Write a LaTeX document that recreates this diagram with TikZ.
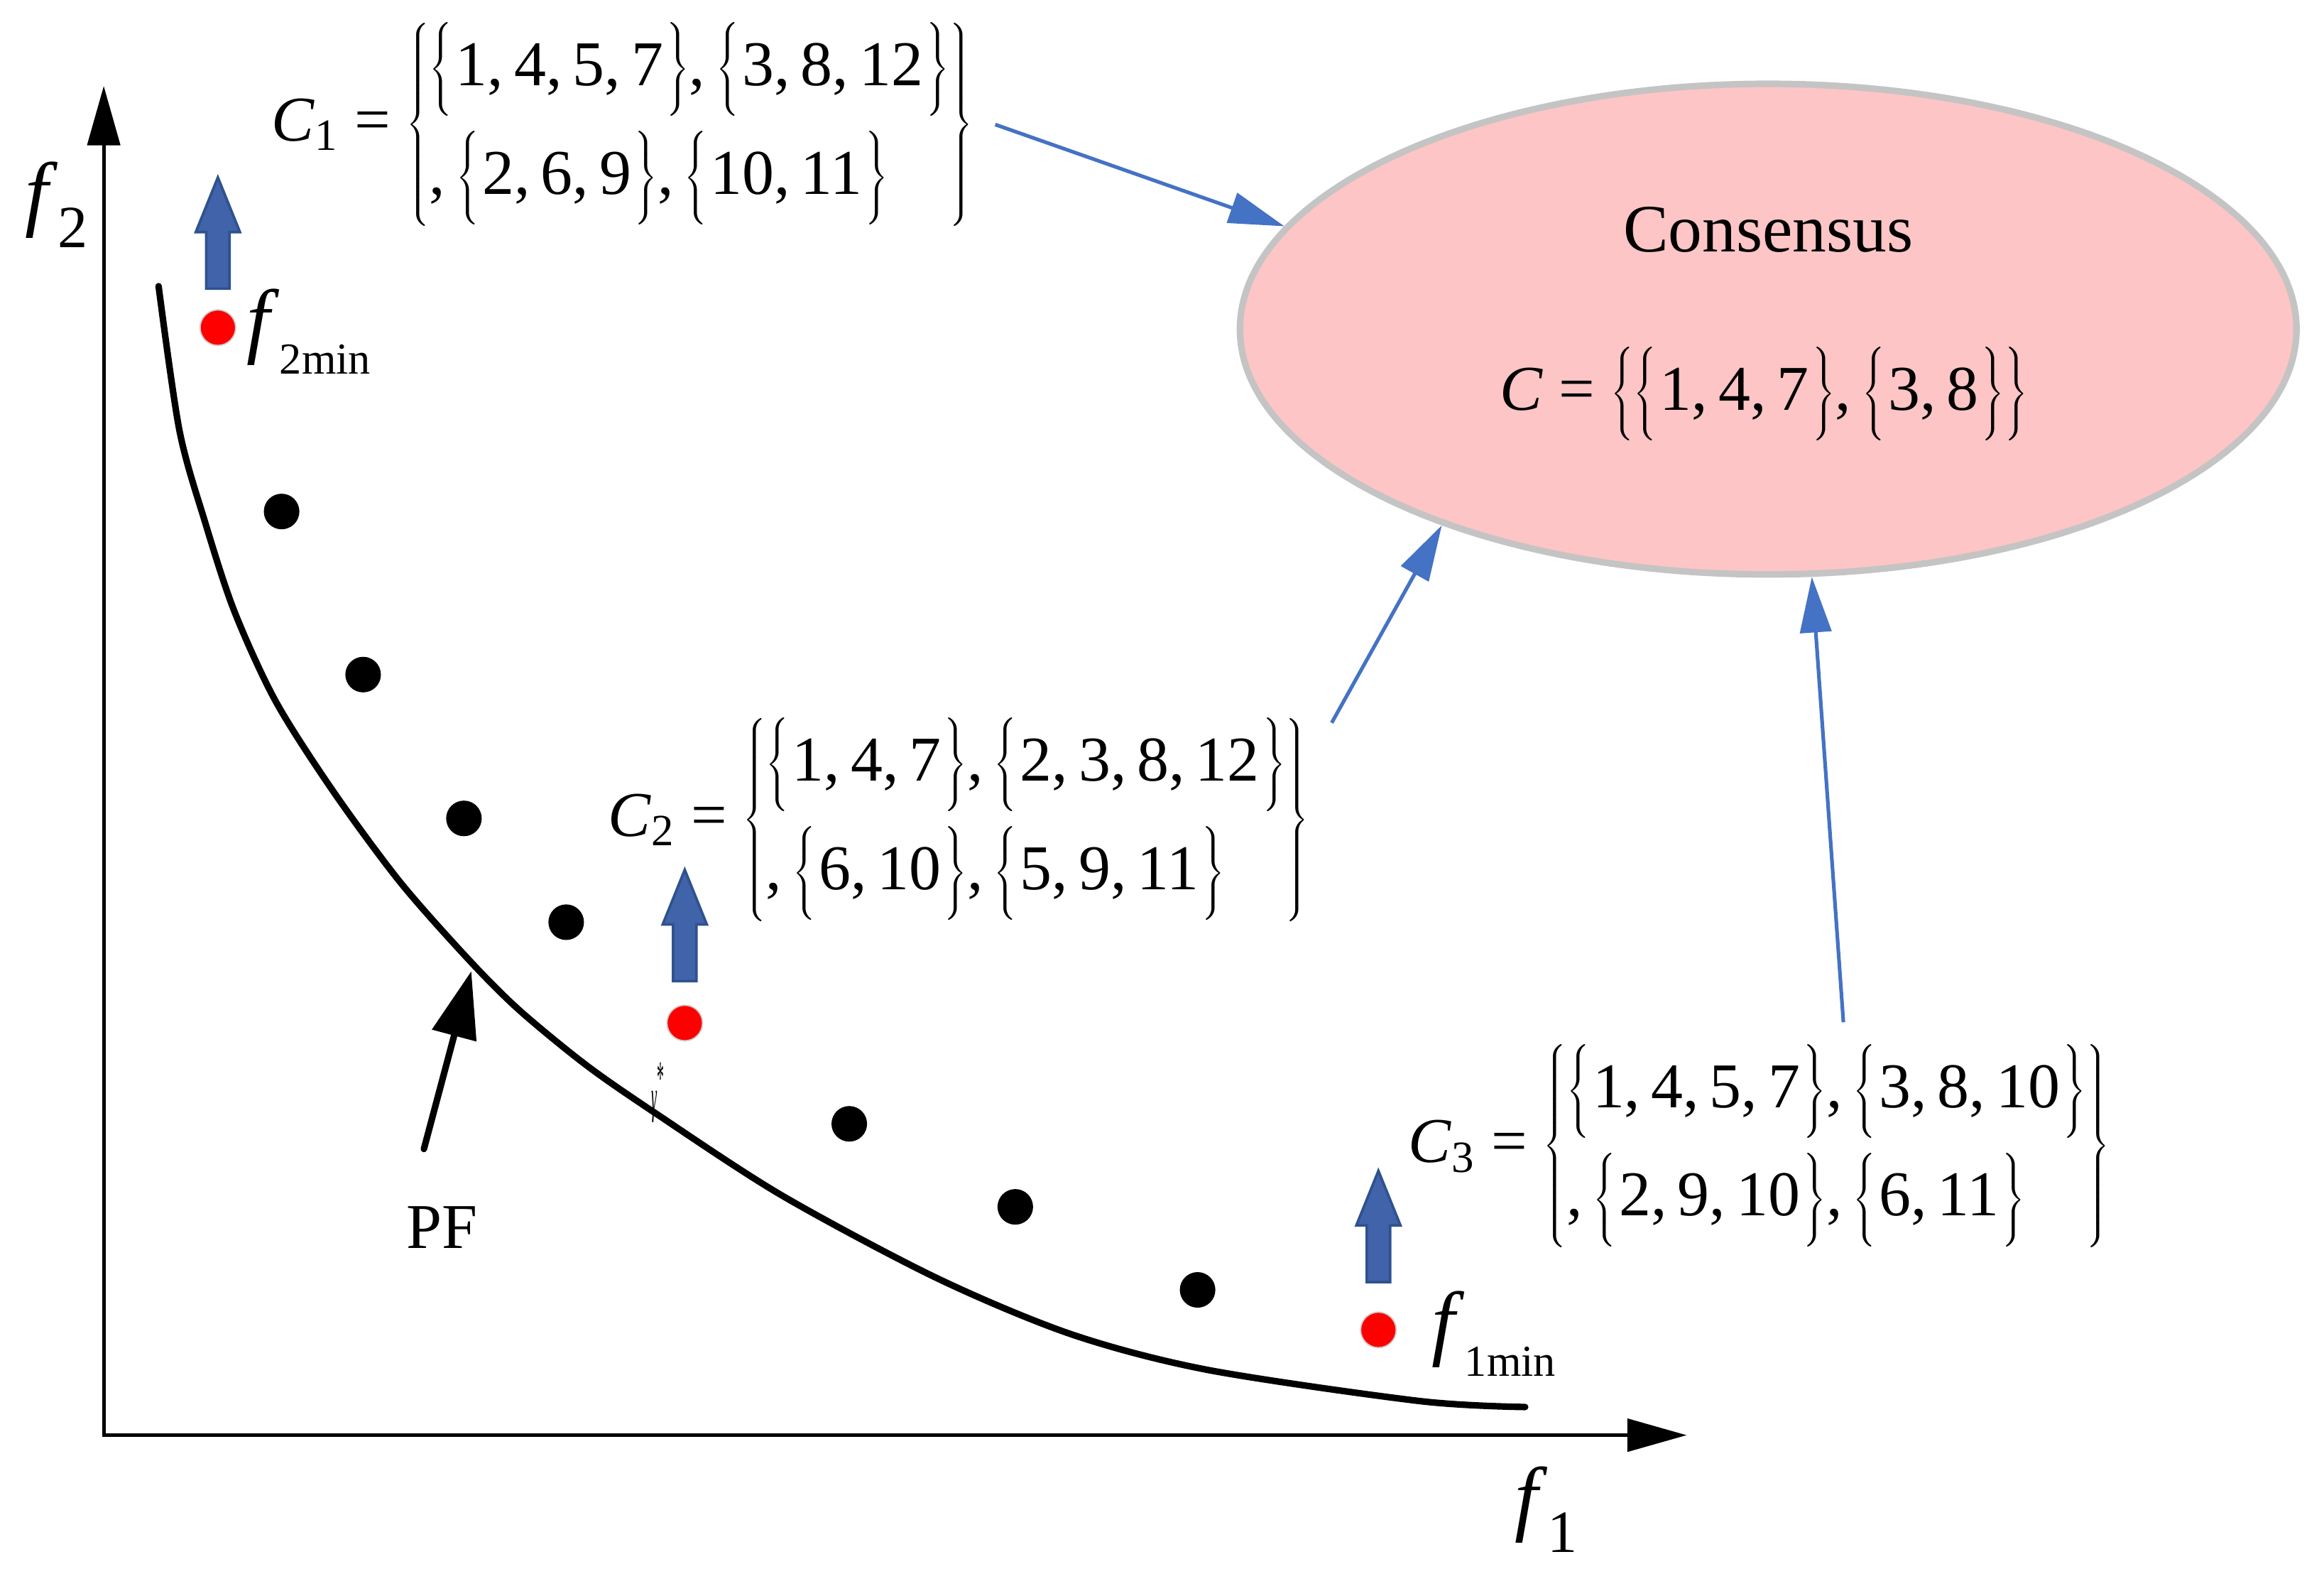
\documentclass[tikz,border=0pt]{standalone}
\usepackage{fontspec}
\setmainfont{Liberation Serif}
\usepackage{graphicx}
\usetikzlibrary{positioning,arrows.meta,shapes.geometric,shapes.arrows}

\definecolor{linkblue}{HTML}{4472C4}
\definecolor{blockblue}{HTML}{4063AA}
\definecolor{blockedge}{HTML}{2F528F}
\definecolor{conspink}{HTML}{FDC5C5}
\definecolor{consgray}{HTML}{C4C4C4}

\newcommand{\eqfont}{\fontsize{24.5}{29}\selectfont}
\newcommand{\flabfont}{\fontsize{32}{38}\selectfont}
\newcommand{\grpstrut}{\rule[-0.44cm]{0pt}{1.3cm}}
\newcommand{\grp}[1]{$\left\{\grpstrut\right.$#1$\left.\grpstrut\right\}$}
\newcommand{\fsub}[2]{\textit{f}\raisebox{-0.32em}{\fontsize{#2}{#2}\selectfont #1}}
\newcommand{\clus}[3]{\textit{C}\textsubscript{#1} = $\left\{\begin{tabular}{@{}l@{}}#2\\[0.3cm]#3\end{tabular}\right\}$}

\tikzset{
  point/.style={circle, fill=black, inner sep=0pt, minimum size=0.48cm},
  minpoint/.style={circle, fill=red, draw=gray!40, line width=0.5pt, inner sep=0pt, minimum size=0.48cm},
  blockup/.style={single arrow, shape border rotate=90, fill=blockblue, draw=blockedge,
    line width=1pt, inner sep=0.14cm, minimum height=1.5cm, minimum width=0.58cm,
    single arrow head extend=0.14cm, single arrow tip angle=44},
  eqn/.style={inner sep=0pt, anchor=west, font=\eqfont},
  link/.style={linkblue, line width=1.4pt, -{Triangle[length=0.75cm,width=0.42cm]}},
  axis/.style={line width=1.3pt, {Triangle[length=0.8cm,width=0.44cm]}-{Triangle[length=0.8cm,width=0.44cm]}},
}

\begin{document}
\begin{tikzpicture}[x=0.02cm, y=-0.02cm]
  \useasboundingbox (0,0) rectangle (1568,1058);

  % Axes
  \coordinate (origin) at (70,968);
  \coordinate (ytip) at (70,58);
  \coordinate (xtip) at (1138,968);
  \draw[axis] (ytip) -- (origin) -- (xtip);
  \node[font=\flabfont] (f2lab) at (38,138) {\fsub{2}{23}};
  \node[font=\flabfont] (f1lab) at (1043,1018) {\fsub{1}{23}};

  % Pareto front
  \draw[line width=2.5pt, line cap=round] plot[smooth] coordinates {(107,193) (121,290)
    (138,351) (158,412) (186,473) (225,534) (270,595) (316,647) (350,681) (395,718)
    (441,750) (527,806) (632,862) (723,900) (815,924) (958,945) (1029,949)};
  \node[font=\eqfont] (pflab) at (298,828) {PF};
  \coordinate (pftail) at (286,775);
  \coordinate (pftip) at (318,655);
  \draw[line width=2.5pt, line cap=round, -{Triangle[length=0.9cm,width=0.6cm]}] (pftail) -- (pftip);
  \node[inner sep=0pt] (gstar) at (444,737) {\scalebox{0.3}[1]{\fontsize{18}{18}\selectfont\textit{γ}\raisebox{0.9ex}{*}}};

  % Solutions
  \node[point] (p1) at (190,345) {};
  \node[point] (p2) at (245,455) {};
  \node[point] (p3) at (313,552) {};
  \node[point] (p4) at (382,622) {};
  \node[point] (p5) at (573,758) {};
  \node[point] (p6) at (685,814) {};
  \node[point] (p7) at (808,870) {};

  % Selected solutions
  \node[minpoint] (r1) at (147,221) {};
  \node[minpoint] (r2) at (462,690) {};
  \node[minpoint] (r3) at (930,897) {};
  \node[blockup, above=0.26cm of r1, anchor=tail] (a1) {};
  \node[blockup, above=0.3cm of r2, anchor=tail] (a2) {};
  \node[blockup, above=0.38cm of r3, anchor=tail] (a3) {};
  \node[font=\flabfont, right=0.02cm of r1, yshift=-0.05cm] (f2min) {\fsub{2min}{17}};
  \node[font=\flabfont, right=0.35cm of r3, yshift=-0.05cm] (f1min) {\fsub{1min}{17}};

  % Clusterings
  \node[eqn] (c1) at (183,84) {\clus{1}{\grp{1,\,4,\,5,\,7},\,\grp{3,\,8,\,12}}{,\,\grp{2,\,6,\,9},\,\grp{10,\,11}}};
  \node[eqn] (c2) at (410,553) {\clus{2}{\grp{1,\,4,\,7},\,\grp{2,\,3,\,8,\,12}}{,\,\grp{6,\,10},\,\grp{5,\,9,\,11}}};
  \node[eqn] (c3) at (950,773) {\clus{3}{\grp{1,\,4,\,5,\,7},\,\grp{3,\,8,\,10}}{,\,\grp{2,\,9,\,10},\,\grp{6,\,11}}};

  % Consensus
  \node[ellipse, draw=consgray, fill=conspink, line width=2.5pt,
    minimum width=14.26cm, minimum height=6.62cm] (cons) at (1193,222) {};
  \node[font=\fontsize{26}{30}\selectfont] (constitle) at (1193,155) {Consensus};
  \node[eqn, anchor=center] (cset) at (1190,266)
    {\textit{C} = $\left\{\mbox{\grp{1,\,4,\,7},\,\grp{3,\,8}}\right\}$};

  % Connect the nodes
  \draw[link] ([xshift=0.3cm]c1.east) -- (cons.168);
  \draw[link] ([xshift=0.3cm,yshift=-0.08cm]c2.north east) -- (cons.211);
  \draw[link] ([xshift=1.14cm,yshift=0.28cm]c3.north) -- (cons.280);

\end{tikzpicture}
\end{document}
